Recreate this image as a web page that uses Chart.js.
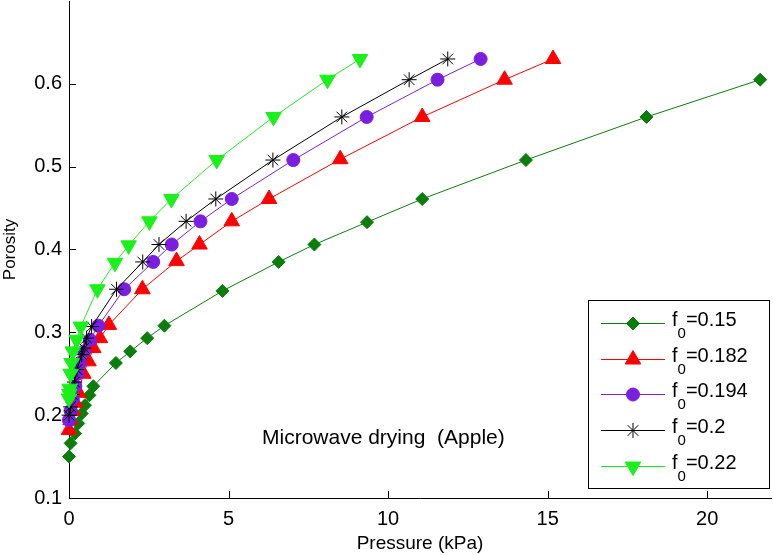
<!DOCTYPE html>
<html>
<head>
<meta charset="utf-8">
<script src="https://cdn.jsdelivr.net/npm/chart.js@4.4.0/dist/chart.umd.min.js"></script>
<style>
  html, body { margin: 0; padding: 0; background: #fff; }
  #wrap { width: 773px; height: 555px; }
</style>
</head>
<body>
<div id="wrap"><canvas id="chart" width="773" height="555"></canvas></div>
<script>
// tick labels
var xTicks = [0, 5, 10, 15, 20];
var yTicks = [0.1, 0.2, 0.3, 0.4, 0.5, 0.6];

// series labels (initial porosity f0)
var seriesNames = ["0.15", "0.182", "0.194", "0.2", "0.22"];

// pressure (kPa) and porosity per series
var pres015 = [0, 0.05, 0.19, 0.29, 0.4, 0.5, 0.64, 0.76, 1.47, 1.92, 2.45, 2.99, 4.81, 6.57, 7.69, 9.34, 11.07, 14.32, 18.1, 21.66];
var poro015 = [0.15, 0.166, 0.178, 0.19, 0.202, 0.212, 0.224, 0.235, 0.263, 0.277, 0.293, 0.308, 0.35, 0.385, 0.406, 0.433, 0.461, 0.508, 0.56, 0.605];

var pres0182 = [0, 0.05, 0.12, 0.2, 0.3, 0.45, 0.61, 0.76, 0.97, 1.25, 2.3, 3.37, 4.09, 5.1, 6.27, 8.5, 11.07, 13.65, 15.17];
var poro0182 = [0.182, 0.194, 0.205, 0.215, 0.227, 0.25, 0.265, 0.281, 0.293, 0.309, 0.352, 0.386, 0.406, 0.434, 0.461, 0.509, 0.56, 0.605, 0.63];

var pres0194 = [0, 0.05, 0.12, 0.2, 0.27, 0.34, 0.47, 0.66, 0.92, 1.73, 2.64, 3.22, 4.12, 5.1, 7.03, 9.33, 11.55, 12.9];
var poro0194 = [0.194, 0.205, 0.22, 0.235, 0.25, 0.263, 0.277, 0.291, 0.308, 0.352, 0.385, 0.406, 0.434, 0.461, 0.508, 0.56, 0.605, 0.63];

var pres020 = [0, 0.05, 0.1, 0.17, 0.25, 0.4, 0.47, 0.55, 0.71, 1.49, 2.31, 2.82, 3.67, 4.6, 6.39, 8.55, 10.66, 11.87];
var poro020 = [0.2, 0.21, 0.225, 0.24, 0.255, 0.273, 0.281, 0.293, 0.307, 0.352, 0.385, 0.406, 0.434, 0.461, 0.508, 0.56, 0.605, 0.63];

var pres022 = [0, 0.01, 0.02, 0.05, 0.08, 0.12, 0.24, 0.37, 0.89, 1.44, 1.87, 2.52, 3.21, 4.63, 6.41, 8.1, 9.12];
var poro022 = [0.22, 0.226, 0.232, 0.25, 0.263, 0.277, 0.291, 0.307, 0.352, 0.384, 0.405, 0.434, 0.461, 0.508, 0.56, 0.605, 0.63];

var noteText = "Microwave drying  (Apple)";

var FONT = "'Liberation Sans', Arial, Helvetica, sans-serif";

function toPoints(xs, ys) {
  return xs.map((x, i) => ({ x: x, y: ys[i] }));
}

var styles = [
  { color: "#0b7d0b", pointStyle: "rectRot", radius: 6.5, rotation: 0 },
  { color: "#ff0000", pointStyle: "triangle", radius: 9, rotation: 0 },
  { color: "#7a1fe0", pointStyle: "circle", radius: 6.5, rotation: 0 },
  { color: "#000000", pointStyle: "star", radius: 7.5, rotation: 0 },
  { color: "#1bf01b", pointStyle: "triangle", radius: 9, rotation: 180 },
];

var allPres = [pres015, pres0182, pres0194, pres020, pres022];
var allPoro = [poro015, poro0182, poro0194, poro020, poro022];

var datasets = seriesNames.map((name, i) => {
  const s = styles[i];
  return {
    label: "f0=" + name,
    data: toPoints(allPres[i], allPoro[i]),
    showLine: true,
    borderColor: s.color,
    backgroundColor: s.color,
    borderWidth: 1,
    pointStyle: s.pointStyle,
    pointRadius: s.radius,
    pointRotation: s.rotation,
    pointBorderColor: s.color,
    pointBackgroundColor: s.color,
    pointBorderWidth: 1,
    clip: false,
    order: -i, // later series on top, like the original
  };
});

// inward ticks, annotation text and boxed legend
var decorations = {
  id: "decorations",
  afterDraw(chart) {
    const ctx = chart.ctx;
    const xs = chart.scales.x;
    const ys = chart.scales.y;
    ctx.save();
    ctx.strokeStyle = "#000";
    ctx.lineWidth = 1;
    ctx.beginPath();
    xTicks.forEach((v) => {
      const px = Math.round(xs.getPixelForValue(v)) + 0.5;
      ctx.moveTo(px, ys.bottom);
      ctx.lineTo(px, ys.bottom - 7);
    });
    yTicks.forEach((v) => {
      const py = Math.round(ys.getPixelForValue(v)) + 0.5;
      ctx.moveTo(xs.left, py);
      ctx.lineTo(xs.left + 7, py);
    });
    ctx.stroke();

    // annotation
    ctx.fillStyle = "#000";
    ctx.font = "21px " + FONT;
    ctx.textBaseline = "middle";
    ctx.textAlign = "left";
    ctx.fillText(noteText, 262, 438);

    // legend box
    const bx = 588.5, by = 300.5, bw = 181, bh = 188;
    ctx.fillStyle = "#fff";
    ctx.fillRect(bx, by, bw, bh);
    ctx.strokeStyle = "#000";
    ctx.lineWidth = 1;
    ctx.strokeRect(bx, by, bw, bh);

    seriesNames.forEach((name, i) => {
      const s = styles[i];
      const ry = Math.round(323 + i * 35.7) + 0.5;
      ctx.strokeStyle = s.color;
      ctx.fillStyle = s.color;
      ctx.lineWidth = 1;
      ctx.beginPath();
      ctx.moveTo(601, ry);
      ctx.lineTo(665, ry);
      ctx.stroke();
      Chart.helpers.drawPoint(ctx, {
        pointStyle: s.pointStyle,
        rotation: s.rotation,
        radius: s.radius,
        borderWidth: 1,
      }, 633, ry);

      ctx.fillStyle = "#000";
      ctx.font = "20px " + FONT;
      ctx.fillText("f", 672, ry - 3);
      let tx = 672 + ctx.measureText("f").width;
      ctx.font = "15px " + FONT;
      ctx.fillText("0", tx, ry + 10);
      tx += ctx.measureText("0").width;
      ctx.font = "20px " + FONT;
      ctx.fillText("=" + name, tx, ry - 3);
    });
    ctx.restore();
  },
};

new Chart(document.getElementById("chart"), {
  type: "scatter",
  data: { datasets: datasets },
  options: {
    responsive: false,
    animation: false,
    devicePixelRatio: 1,
    layout: { autoPadding: false, padding: { top: 1, right: 2, left: 0, bottom: 0 } },
    plugins: {
      legend: { display: false },
      tooltip: { enabled: false },
    },
    scales: {
      x: {
        type: "linear",
        min: 0,
        max: 22,
        afterFit: (s) => { s.height = 57; s.paddingLeft = 0; s.paddingRight = 0; },
        afterBuildTicks: (s) => { s.ticks = xTicks.map((v) => ({ value: v })); },
        grid: { display: true, drawOnChartArea: false, drawTicks: false },
        border: { display: true, color: "#000", width: 1 },
        ticks: {
          color: "#000",
          font: { family: FONT, size: 20 },
          padding: 9,
          maxRotation: 0,
          callback: (v) => String(v),
        },
        title: {
          display: true,
          text: "Pressure (kPa)",
          color: "#000",
          font: { family: FONT, size: 19 },
          padding: { top: 0, bottom: 0 },
        },
      },
      y: {
        type: "linear",
        min: 0.1,
        max: 0.7,
        afterFit: (s) => { s.width = 69; s.paddingTop = 0; s.paddingBottom = 0; },
        afterBuildTicks: (s) => { s.ticks = yTicks.map((v) => ({ value: v })); },
        grid: { display: true, drawOnChartArea: false, drawTicks: false },
        border: { display: true, color: "#000", width: 1 },
        ticks: {
          color: "#000",
          font: { family: FONT, size: 20 },
          padding: 7,
          callback: (v) => v.toFixed(1),
        },
        title: {
          display: true,
          text: "Porosity",
          color: "#000",
          font: { family: FONT, size: 17 },
          padding: { top: 0, bottom: 0 },
        },
      },
    },
  },
  plugins: [decorations],
});
</script>
</body>
</html>
